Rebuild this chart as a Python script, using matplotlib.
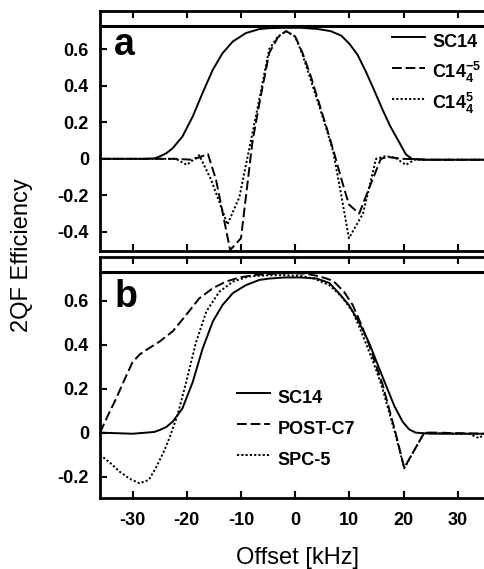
import numpy as np
import matplotlib
matplotlib.use('Agg')
import matplotlib.pyplot as plt

plt.rcParams['font.family'] = ['Liberation Sans', 'DejaVu Sans']
plt.rcParams['mathtext.fontset'] = 'custom'
plt.rcParams['mathtext.bf'] = 'Liberation Sans:bold'
plt.rcParams['mathtext.rm'] = 'Liberation Sans:bold'
plt.rcParams['mathtext.default'] = 'bf'
plt.rcParams['axes.unicode_minus'] = False

# panel a
a_sc14_x = [-36, -28, -26, -25, -23.8, -22.6, -20.8, -18.9, -17.1, -15.2, -13.4, -11.5, -9.1, -6.6, -4.8, -2, 1, 4, 6.5, 8.5, 10, 11.5, 13, 14.5, 16.1, 17.5, 19.1, 20.4, 21.5, 24, 28, 35]
a_sc14_y = [0, 0, 0.002, 0.013, 0.03, 0.058, 0.122, 0.232, 0.36, 0.488, 0.579, 0.643, 0.689, 0.711, 0.716, 0.718, 0.718, 0.712, 0.70, 0.675, 0.63, 0.57, 0.48, 0.38, 0.27, 0.18, 0.095, 0.025, 0.0, -0.005, -0.005, -0.005]

a_m5_x = [-36, -22, -19, -17.5, -16.1, -14.6, -12, -10, -7.9, -6.6, -4.8, -3.2, -1.7, 0, 1.35, 2.9, 4.4, 5.8, 7.2, 8.6, 9.9, 11.8, 13.5, 15.8, 17, 20, 25, 35]
a_m5_y = [0, 0, -0.005, 0.01, 0.027, -0.115, -0.5, -0.435, 0.09, 0.305, 0.58, 0.665, 0.7, 0.67, 0.58, 0.45, 0.305, 0.17, 0.03, -0.12, -0.25, -0.30, -0.17, 0.0, 0.01, 0.0, -0.005, -0.005]

a_p5_x = [-36, -22, -20, -17.7, -15.5, -13.7, -12.5, -10.3, -8.2, -6.6, -4.8, -3.2, -1.7, 0, 1.35, 2.9, 4.4, 5.8, 7.0, 8.5, 9.9, 12.5, 14.9, 16.7, 18.5, 20.4, 22, 35]
a_p5_y = [0, 0, -0.033, 0.02, -0.115, -0.26, -0.36, -0.21, 0.095, 0.33, 0.6, 0.67, 0.7, 0.67, 0.57, 0.43, 0.29, 0.16, 0.04, -0.2, -0.435, -0.3, 0.0, 0.015, 0.005, -0.033, -0.005, -0.005]

# panel b
b_sc14_x = [-36, -30, -26, -25, -23.8, -22.6, -20.8, -18.9, -17.1, -15.2, -13.4, -11.5, -9.1, -6.6, -4.8, -2, 1, 4, 6.3, 8, 9.9, 11.8, 13.6, 15.2, 16.7, 18.3, 19.8, 21, 22.2, 25, 35]
b_sc14_y = [0, -0.005, 0.003, 0.012, 0.025, 0.05, 0.11, 0.23, 0.38, 0.505, 0.58, 0.634, 0.67, 0.694, 0.70, 0.705, 0.705, 0.70, 0.68, 0.635, 0.58, 0.50, 0.41, 0.31, 0.217, 0.12, 0.05, 0.015, 0.0, -0.005, -0.005]

b_post_x = [-36, -34.5, -33, -31.5, -30, -28.7, -27.5, -25, -22.6, -20.1, -17.7, -15.2, -12.8, -10.3, -7.2, -4, -1, 2, 4.5, 7, 9, 10.6, 12.2, 13.6, 16.1, 18.5, 20.1, 23.8, 26, 35]
b_post_y = [0.0, 0.08, 0.156, 0.24, 0.32, 0.355, 0.375, 0.414, 0.46, 0.535, 0.61, 0.656, 0.686, 0.705, 0.717, 0.722, 0.725, 0.722, 0.71, 0.69, 0.64, 0.58, 0.49, 0.40, 0.22, 0.0, -0.16, 0.0, 0.0, -0.005]

b_spc_x = [-36, -34, -32.4, -30.5, -28.7, -27, -25.7, -24.3, -23.2, -21.7, -20.1, -18.3, -16.4, -14, -11.5, -8.5, -5, -2, 1, 3.5, 6.3, 8.5, 10.6, 12, 13.6, 15, 16.1, 18.5, 20.1, 23.8, 30, 32, 33.9, 35]
b_spc_y = [-0.10, -0.14, -0.177, -0.21, -0.23, -0.215, -0.16, -0.09, -0.025, 0.08, 0.23, 0.41, 0.55, 0.64, 0.686, 0.71, 0.715, 0.715, 0.712, 0.70, 0.67, 0.62, 0.55, 0.47, 0.37, 0.28, 0.20, -0.01, -0.162, 0.0, -0.005, -0.005, -0.025, -0.005]

xticks = [-30, -20, -10, 0, 10, 20, 30]
a_yticks = [0.6, 0.4, 0.2, 0, -0.2, -0.4]
a_ylabels = ['0.6', '0.4', '0.2', '0', '-0.2', '-0.4']
b_yticks = [0.6, 0.4, 0.2, 0, -0.2]
b_ylabels = ['0.6', '0.4', '0.2', '0', '-0.2']

fig = plt.figure(figsize=(4.85, 5.69), dpi=100)
ax1 = fig.add_axes([100/485, 318/569, 385/485, 240/569])
ax2 = fig.add_axes([100/485, 71/569, 385/485, 241/569])

lw = 1.4
dash = (0, (5, 2))
dot = (0, (1.1, 1.1))
ax1.plot(a_sc14_x, a_sc14_y, color='black', lw=lw, ls='-', label='SC14')
ax1.plot(a_m5_x, a_m5_y, color='black', lw=lw, ls=dash, label=r'C14$_4^{-5}$')
ax1.plot(a_p5_x, a_p5_y, color='black', lw=lw, ls=dot, label=r'C14$_4^{5}$')

ax2.plot(b_sc14_x, b_sc14_y, color='black', lw=lw, ls='-', label='SC14')
ax2.plot(b_post_x, b_post_y, color='black', lw=lw, ls=dash, label='POST-C7')
ax2.plot(b_spc_x, b_spc_y, color='black', lw=lw, ls=dot, label='SPC-5')

for ax, yt, yl, lim in [(ax1, a_yticks, a_ylabels, (-0.505, 0.81)),
                        (ax2, b_yticks, b_ylabels, (-0.297, 0.798))]:
    ax.set_xlim(-36, 35)
    ax.set_ylim(*lim)
    ax.axhline(0.73, color='black', lw=2.2)
    ax.set_xticks(xticks)
    ax.set_yticks(yt)
    ax.set_yticklabels(yl)
    ax.spines['right'].set_visible(False)
    for s in ['left', 'top', 'bottom']:
        ax.spines[s].set_linewidth(2)
    ax.tick_params(direction='in', top=True, right=False, length=5, width=1.5,
                   labelsize=13)
    ax.tick_params(axis='y', pad=8)
    ax.tick_params(axis='x', pad=10)
    for t in ax.get_xticklabels() + ax.get_yticklabels():
        t.set_fontweight('bold')

ax1.tick_params(labelbottom=False)

ax1.text(-33.4, 0.57, 'a', fontsize=27, fontweight='bold')
ax2.text(-33.4, 0.571, 'b', fontsize=27, fontweight='bold')

leg_kw = dict(frameon=False, prop={'weight': 'bold', 'size': 13},
              handlelength=1.85, handleheight=2.26, handletextpad=0.4,
              labelspacing=0.0, borderpad=0, borderaxespad=0, loc='upper left')
ax1.legend(bbox_to_anchor=(0.758, 0.936), **leg_kw)
ax2.legend(bbox_to_anchor=(0.356, 0.48), **leg_kw)

fig.text(0.045, 0.552, '2QF Efficiency', rotation=90, fontsize=17,
         ha='center', va='center')
fig.text(297/485, 0.019, 'Offset [kHz]', fontsize=17, ha='center', va='center')

fig.savefig('out.png', dpi=100)
